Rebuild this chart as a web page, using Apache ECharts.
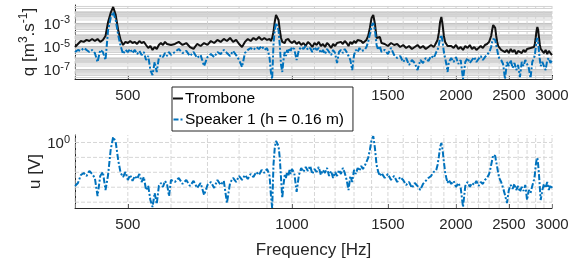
<!DOCTYPE html>
<html>
<head>
<meta charset="utf-8">
<script src="https://cdn.jsdelivr.net/npm/echarts@6/dist/echarts.min.js"></script>
<style>
  html, body { margin: 0; padding: 0; background: #fff; }
  #chart { width: 585px; height: 264px; }
</style>
</head>
<body>
<div id="chart"></div>
<script>
// frequency (Hz)
const freq = [
  400, 405, 410, 415, 420, 425, 430, 435, 440, 445, 450, 455, 460, 465, 470, 475, 480, 485, 490, 495,
  500, 505, 510, 515, 520, 525, 530, 535, 540, 545, 550, 555, 560, 565, 570, 575, 580, 585, 590, 595, 600,
  610, 620, 630, 640, 650, 660, 670, 680, 690, 700, 710, 720, 730, 740, 750, 760, 770, 780, 790,
  800, 810, 820, 830, 840, 850, 860, 870, 880, 890, 900,
  905, 910, 915, 920, 925, 930, 935, 940, 945, 950, 955, 960, 965, 970, 975, 980, 985, 990, 995, 1000,
  1010, 1020, 1030, 1040, 1050, 1060, 1070, 1080, 1090, 1100, 1110, 1120, 1130, 1140, 1150, 1160, 1170, 1180,
  1190, 1200, 1210, 1220, 1230, 1240, 1250, 1260, 1270, 1280, 1290, 1300, 1310, 1320, 1330, 1340, 1350,
  1360, 1370, 1380, 1390, 1400, 1410, 1420, 1430, 1440, 1450, 1460,
  1480, 1500, 1520, 1540, 1560, 1580, 1600, 1620, 1640, 1660, 1680, 1700, 1720, 1740, 1760, 1780, 1800, 1820,
  1830, 1840, 1850, 1860, 1870, 1880, 1890, 1900, 1910, 1920, 1930, 1940,
  1960, 1980, 2000, 2020, 2040, 2060, 2080, 2100, 2120, 2140, 2160, 2180, 2200, 2220, 2240, 2260, 2280, 2300,
  2310, 2320, 2330, 2340, 2350, 2360, 2370, 2380, 2390, 2400,
  2420, 2440, 2460, 2480, 2500, 2520, 2540, 2560, 2580, 2600, 2620, 2640, 2660, 2680, 2700, 2720, 2740, 2760, 2780,
  2790, 2800, 2810, 2820, 2830, 2840, 2850, 2860,
  2880, 2900, 2920, 2940, 2960, 2980, 3000
];

// volume flow q (m^3/s), trombone
const tromboneQ = [
  9.0e-6, 1.65e-5, 3.0e-5, 2.5e-5, 3.7e-5, 3.0e-5, 4.5e-5, 3.0e-5, 4.5e-5, 2.5e-5, 3.7e-5, 8.2e-5, 1.35e-3, 8.2e-3, 2.7e-2, 5.5e-3, 2.7e-4, 3.7e-5, 1.35e-5, 2.5e-5,
  2.0e-5, 3.0e-5, 2.0e-5, 2.5e-5, 1.65e-5, 3.0e-5, 2.0e-5, 2.5e-5, 1.35e-5, 7.4e-6, 1.1e-5, 5.0e-6, 9.0e-6, 6.1e-6, 1.35e-5, 2.0e-5, 1.35e-5, 2.5e-5, 1.65e-5, 2.0e-5, 1.35e-5,
  1.65e-5, 2.5e-5, 1.35e-5, 2.0e-5, 9.0e-6, 6.1e-6, 1.65e-5, 1.1e-5, 2.0e-5, 1.35e-5, 3.0e-5, 2.0e-5, 3.7e-5, 2.5e-5, 4.5e-5, 3.0e-5, 5.5e-5, 2.5e-5, 3.7e-5,
  1.65e-5, 9.0e-6, 2.5e-5, 4.5e-5, 3.0e-5, 5.5e-5, 3.7e-5, 6.7e-5, 3.7e-5, 5.5e-5, 3.7e-5,
  2.5e-5, 4.5e-5, 3.0e-5, 5.5e-5, 1.8e-4, 1.35e-3, 5.5e-3, 6.7e-3, 2.0e-3, 2.7e-4, 5.5e-5, 2.5e-5, 3.7e-5, 2.0e-5, 3.7e-5, 2.5e-5, 4.5e-5, 3.0e-5, 3.7e-5, 2.0e-5,
  3.0e-5, 1.65e-5, 2.5e-5, 1.35e-5, 2.0e-5, 1.1e-5, 2.5e-5, 1.65e-5, 9.0e-6, 2.0e-5, 1.35e-5, 2.5e-5, 1.1e-5, 1.65e-5, 9.0e-6, 2.0e-5, 1.35e-5, 7.4e-6,
  1.65e-5, 1.1e-5, 2.0e-5, 1.35e-5, 2.5e-5, 1.65e-5, 3.0e-5, 2.0e-5, 1.1e-5, 2.5e-5, 1.65e-5, 3.0e-5, 2.0e-5, 3.7e-5, 2.5e-5, 3.0e-5, 2.0e-5,
  2.5e-5, 3.7e-5, 8.2e-5, 4.1e-4, 3.0e-3, 5.5e-3, 9.0e-4, 5.5e-5, 3.7e-5, 6.7e-5, 2.0e-5,
  1.65e-5, 1.1e-5, 2.0e-5, 1.35e-5, 1.65e-5, 9.0e-6, 1.35e-5, 7.4e-6, 1.1e-5, 6.1e-6, 9.0e-6, 1.35e-5, 7.4e-6, 1.1e-5, 6.1e-6, 9.0e-6, 1.35e-5, 9.0e-6,
  1.35e-5, 2.0e-5, 3.7e-5, 1.5e-4, 1.35e-3, 3.7e-3, 7.4e-4, 8.2e-5, 2.5e-5, 1.65e-5, 1.1e-5, 1.35e-5,
  1.1e-5, 7.4e-6, 1.35e-5, 6.1e-6, 9.0e-6, 5.0e-6, 1.1e-5, 7.4e-6, 1.35e-5, 6.1e-6, 9.0e-6, 5.0e-6, 7.4e-6, 1.1e-5, 7.4e-6, 1.35e-5, 1.65e-5, 2.5e-5,
  3.7e-5, 8.2e-5, 2.7e-4, 7.4e-4, 9.0e-4, 4.1e-4, 8.2e-5, 2.5e-5, 1.1e-5, 7.4e-6,
  5.0e-6, 7.4e-6, 3.3e-6, 5.0e-6, 2.7e-6, 6.1e-6, 3.3e-6, 5.0e-6, 2.2e-6, 4.1e-6, 6.1e-6, 2.7e-6, 5.0e-6, 3.3e-6, 6.1e-6, 4.1e-6, 7.4e-6, 5.0e-6, 9.0e-6,
  1.65e-5, 5.5e-5, 2.2e-4, 5.0e-4, 2.7e-4, 5.5e-5, 1.35e-5, 6.1e-6,
  4.1e-6, 2.7e-6, 5.0e-6, 2.2e-6, 4.1e-6, 2.7e-6, 1.8e-6
];

// volume flow q (m^3/s), speaker 1
const speakerQ = [
  3.3e-6, 5.0e-6, 4.1e-6, 7.4e-6, 5.0e-6, 3.3e-6, 5.0e-6, 2.7e-6, 4.5e-7, 5.0e-6, 3.3e-6, 6.7e-7, 2.7e-4, 3.0e-3, 1.0e-2, 2.0e-3, 1.0e-4, 1.1e-5, 2.2e-6, 5.0e-6,
  3.3e-6, 6.1e-6, 2.7e-6, 5.0e-6, 2.2e-6, 4.1e-6, 1.8e-6, 3.3e-6, 6.7e-7, 1.5e-6, 9.0e-8, 3.3e-8, 4.5e-7, 6.1e-8, 1.0e-6, 1.8e-6, 1.2e-6, 2.7e-6, 1.5e-6, 3.3e-6, 1.8e-6,
  3.3e-6, 6.1e-6, 2.7e-6, 4.1e-6, 1.5e-6, 3.3e-6, 1.0e-6, 1.8e-6, 2.0e-7, 1.2e-6, 2.2e-6, 1.2e-6, 3.3e-6, 2.2e-6, 5.0e-6, 2.7e-6, 1.5e-6, 4.1e-6, 1.8e-6,
  6.7e-7, 1.65e-7, 2.7e-6, 5.0e-6, 7.4e-6, 5.0e-6, 9.0e-6, 6.1e-6, 1.1e-5, 5.0e-6, 7.4e-6,
  3.3e-6, 1.0e-6, 6.1e-8, 1.5e-8, 1.35e-5, 2.7e-4, 1.1e-3, 1.35e-3, 2.7e-4, 1.35e-5, 2.5e-7, 6.1e-8, 6.7e-7, 3.3e-6, 1.5e-6, 5.0e-6, 2.7e-6, 7.4e-6, 4.1e-6, 9.0e-6,
  6.1e-6, 6.7e-7, 5.0e-6, 9.0e-6, 6.1e-6, 1.1e-5, 5.0e-6, 7.4e-6, 3.3e-6, 9.0e-6, 5.0e-6, 7.4e-6, 2.7e-6, 5.0e-6, 2.2e-6, 6.1e-6, 3.3e-6, 1.8e-6,
  5.0e-6, 2.7e-6, 3.7e-7, 3.3e-6, 5.0e-6, 2.7e-6, 6.1e-6, 3.3e-6, 1.5e-6, 6.7e-7, 9.0e-8, 1.8e-6, 5.0e-6, 3.3e-6, 7.4e-6, 4.1e-6, 6.1e-6,
  5.0e-6, 9.0e-6, 2.5e-5, 1.2e-4, 6.1e-4, 1.1e-3, 2.7e-4, 1.35e-5, 5.0e-6, 1.1e-5, 3.3e-6,
  5.0e-6, 2.2e-6, 7.4e-6, 1.8e-6, 1.0e-6, 1.5e-6, 4.5e-7, 1.0e-6, 2.5e-7, 6.7e-7, 3.7e-7, 9.0e-8, 6.7e-7, 3.7e-7, 1.0e-6, 5.5e-7, 1.5e-6, 1.0e-6,
  1.8e-6, 3.3e-6, 5.0e-6, 1.35e-5, 5.5e-5, 1.0e-4, 2.5e-5, 3.3e-6, 1.0e-6, 3.0e-7, 6.1e-8, 4.5e-7,
  1.0e-6, 4.5e-7, 1.2e-6, 3.0e-7, 6.7e-7, 1.5e-8, 4.5e-7, 1.0e-6, 3.7e-7, 6.7e-7, 1.2e-6, 4.5e-7, 8.2e-7, 1.5e-6, 6.7e-7, 1.2e-6, 1.8e-6, 3.3e-6,
  5.0e-6, 9.0e-6, 2.5e-5, 4.5e-5, 5.5e-5, 3.7e-5, 1.35e-5, 5.0e-6, 1.8e-6, 1.0e-6,
  6.7e-7, 3.0e-7, 1.5e-8, 4.5e-7, 2.0e-7, 6.7e-7, 1.35e-7, 3.7e-7, 9.0e-8, 2.5e-7, 2.2e-8, 4.5e-7, 2.0e-7, 6.7e-7, 3.0e-7, 1.35e-7, 1.8e-8, 4.5e-7, 1.0e-6,
  1.8e-6, 7.4e-6, 3.0e-5, 5.5e-5, 2.5e-5, 3.3e-6, 6.7e-7, 2.0e-7,
  4.5e-7, 2.0e-7, 9.0e-8, 6.7e-7, 1.0e-6, 3.7e-7, 6.7e-7
];

// voltage u (V), speaker 1
const speakerU = [
  0.261, 0.286, 0.366, 0.390, 0.355, 0.415, 0.378, 0.334, 0.191, 0.355, 0.402, 0.230, 0.366, 0.793, 1.185, 1.02, 0.582, 0.390, 0.344, 0.402,
  0.314, 0.366, 0.305, 0.355, 0.324, 0.378, 0.295, 0.344, 0.230, 0.261, 0.169, 0.136, 0.210, 0.149, 0.261, 0.286, 0.253, 0.305, 0.278, 0.191, 0.314,
  0.295, 0.334, 0.278, 0.314, 0.261, 0.305, 0.245, 0.286, 0.197, 0.269, 0.295, 0.245, 0.314, 0.269, 0.305, 0.154, 0.286, 0.334, 0.295,
  0.355, 0.314, 0.366, 0.324, 0.378, 0.344, 0.402, 0.366, 0.428, 0.390, 0.441,
  0.402, 0.355, 0.197, 0.132, 0.499, 0.84, 1.05, 1.08, 0.898, 0.62, 0.334, 0.180, 0.269, 0.366, 0.334, 0.402, 0.355, 0.428, 0.378, 0.441,
  0.390, 0.217, 0.366, 0.455, 0.402, 0.469, 0.415, 0.484, 0.378, 0.441, 0.402, 0.469, 0.366, 0.428, 0.390, 0.455, 0.355, 0.415,
  0.334, 0.402, 0.355, 0.428, 0.378, 0.455, 0.390, 0.314, 0.230, 0.355, 0.295, 0.428, 0.378, 0.455, 0.415, 0.484, 0.441,
  0.484, 0.548, 0.62, 0.793, 1.08, 1.22, 0.84, 0.499, 0.402, 0.355, 0.390,
  0.334, 0.378, 0.314, 0.355, 0.295, 0.344, 0.314, 0.269, 0.295, 0.245, 0.286, 0.261, 0.230, 0.278, 0.305, 0.334, 0.355, 0.402,
  0.378, 0.428, 0.499, 0.64, 0.87, 0.985, 0.793, 0.548, 0.402, 0.334, 0.286, 0.314,
  0.278, 0.305, 0.253, 0.286, 0.245, 0.136, 0.261, 0.295, 0.253, 0.286, 0.269, 0.305, 0.261, 0.295, 0.278, 0.314, 0.334, 0.378,
  0.428, 0.499, 0.582, 0.68, 0.723, 0.659, 0.548, 0.469, 0.390, 0.334,
  0.295, 0.245, 0.197, 0.154, 0.230, 0.269, 0.238, 0.278, 0.230, 0.261, 0.217, 0.253, 0.224, 0.269, 0.169, 0.230, 0.210, 0.261, 0.314,
  0.366, 0.484, 0.582, 0.62, 0.499, 0.366, 0.245, 0.169,
  0.230, 0.278, 0.245, 0.295, 0.230, 0.269, 0.245
];

// ticks and limits
const xTicks = [500, 1000, 1500, 2000, 2500, 3000];
const xGrid = [400, 500, 600, 700, 800, 900, 1000, 1100, 1200, 1300, 1400, 1500, 1600, 1700, 1800, 1900,
  2000, 2100, 2200, 2300, 2400, 2500, 2600, 2700, 2800, 2900, 3000];
const qTicks = [1e-7, 1e-5, 1e-3];
const uTicks = [1];
const uGrid = [1, 0.631, 0.398, 0.251, 0.158];
const xRange = [400, 3000];
const qRange = [1.5e-8, 4e-2];
const uRange = [0.132, 1.26];

const lg = Math.log10;
const font = 'Liberation Sans, Arial, Helvetica, sans-serif';
const axisColor = '#262626';
const blue = '#0072BD';
const dashDot = [6, 2, 2, 2];

function toPairs(vals) {
  return freq.map((f, i) => [lg(f), lg(vals[i])]);
}

// line segments separated by gaps
function vLines(values, yr) {
  const d = [];
  values.forEach(v => { d.push([lg(v), lg(yr[0])], [lg(v), lg(yr[1])], [lg(v), '-']); });
  return d;
}
function hLines(values) {
  const d = [];
  values.forEach(v => { d.push([lg(xRange[0]), lg(v)], [lg(xRange[1]), lg(v)], ['-', lg(v)]); });
  return d;
}

// q-axis grid: decades and minor lines
const qMajor = [];
const qMinor = [];
for (let e = -8; e <= -2; e++) {
  qMajor.push(Math.pow(10, e));
  for (let k = 2; k <= 9; k++) {
    const v = k * Math.pow(10, e);
    if (v > qRange[0] && v < qRange[1]) qMinor.push(v);
  }
}

function xAxisOpt(gridIndex) {
  return {
    type: 'value',
    gridIndex: gridIndex,
    min: lg(xRange[0]),
    max: lg(xRange[1]),
    axisLine: { show: true, onZero: false, lineStyle: { color: axisColor, width: 1 } },
    axisTick: { show: true, inside: true, length: 4, customValues: xTicks.map(lg), lineStyle: { color: axisColor } },
    axisLabel: {
      customValues: xTicks.map(lg),
      formatter: v => String(Math.round(Math.pow(10, v))),
      fontSize: 15,
      color: axisColor,
      fontFamily: font,
      margin: 9
    },
    splitLine: { show: false }
  };
}

const supRich = {
  b: { fontSize: 15, lineHeight: 17, verticalAlign: 'bottom', color: axisColor, fontFamily: font },
  s: { fontSize: 11, lineHeight: 11, verticalAlign: 'top', color: axisColor, fontFamily: font }
};

const chart = echarts.init(document.getElementById('chart'));
chart.setOption({
  animation: false,
  textStyle: { fontFamily: font },
  grid: [
    { left: 75, top: 5, width: 477, height: 74 },
    { left: 75, top: 135, width: 477, height: 73 }
  ],
  legend: {
    orient: 'vertical',
    left: 172,
    top: 87,
    data: [
      { name: 'Trombone', icon: 'path://M0,0h10v2h-10z' },
      { name: 'Speaker 1 (h = 0.16 m)', icon: 'path://M0,0h5v2h-5z M7,0h2v2h-2z' }
    ],
    itemWidth: 10,
    itemHeight: 2,
    itemGap: 4,
    padding: [3, 9, 3, 1],
    backgroundColor: '#fff',
    borderColor: axisColor,
    borderWidth: 1,
    borderRadius: 0,
    textStyle: { fontSize: 15.5, lineHeight: 17, color: '#000', fontFamily: font, padding: [0, 0, 0, -3] },
    z: 10
  },
  xAxis: [
    xAxisOpt(0),
    Object.assign(xAxisOpt(1), {
      name: 'Frequency [Hz]',
      nameLocation: 'middle',
      nameGap: 34,
      nameMoveOverlap: false,
      nameTextStyle: { fontSize: 17, color: axisColor, fontFamily: font }
    })
  ],
  yAxis: [
    {
      type: 'value',
      gridIndex: 0,
      min: lg(qRange[0]),
      max: lg(qRange[1]),
      axisLine: { show: true, onZero: false, lineStyle: { color: axisColor, width: 1 } },
      axisTick: { show: true, inside: true, length: 4, customValues: qTicks.map(lg), lineStyle: { color: axisColor } },
      axisLabel: {
        customValues: qTicks.map(lg),
        formatter: v => '{b|10}{s|' + Math.round(v) + '}',
        rich: supRich,
        margin: 5
      },
      splitLine: { show: false },
      name: '{n|q [m}{s|3}{n|.s}{s|-1}{n|]}',
      nameLocation: 'middle',
      nameGap: 37,
      nameMoveOverlap: false,
      nameTextStyle: {
        rich: {
          n: { fontSize: 17, lineHeight: 20, verticalAlign: 'bottom', color: axisColor, fontFamily: font },
          s: { fontSize: 12, lineHeight: 12, verticalAlign: 'top', color: axisColor, fontFamily: font }
        }
      }
    },
    {
      type: 'value',
      gridIndex: 1,
      min: lg(uRange[0]),
      max: lg(uRange[1]),
      axisLine: { show: true, onZero: false, lineStyle: { color: axisColor, width: 1 } },
      axisTick: { show: true, inside: true, length: 4, customValues: uTicks.map(lg), lineStyle: { color: axisColor } },
      axisLabel: {
        customValues: uTicks.map(lg),
        formatter: v => '{b|10}{s|' + Math.round(v) + '}',
        rich: supRich,
        margin: 5
      },
      splitLine: { show: false },
      name: 'u [V]',
      nameLocation: 'middle',
      nameGap: 31,
      nameMoveOverlap: false,
      nameTextStyle: { fontSize: 17, color: axisColor, fontFamily: font }
    }
  ],
  series: [
    // grid lines, top panel
    {
      type: 'line', xAxisIndex: 0, yAxisIndex: 0, z: 1, silent: true, showSymbol: false, symbol: 'none',
      data: hLines(qMinor), lineStyle: { color: '#d2d2d2', width: 1 }
    },
    {
      type: 'line', xAxisIndex: 0, yAxisIndex: 0, z: 1, silent: true, showSymbol: false, symbol: 'none',
      data: hLines(qMajor), lineStyle: { color: '#c2c2c2', width: 1 }
    },
    {
      type: 'line', xAxisIndex: 0, yAxisIndex: 0, z: 1, silent: true, showSymbol: false, symbol: 'none',
      data: vLines(xGrid, qRange), lineStyle: { color: '#d2d2d2', width: 1, type: [3, 2] }
    },
    // grid lines, bottom panel
    {
      type: 'line', xAxisIndex: 1, yAxisIndex: 1, z: 1, silent: true, showSymbol: false, symbol: 'none',
      data: hLines(uGrid), lineStyle: { color: '#d6d6d6', width: 1, type: [4, 2] }
    },
    {
      type: 'line', xAxisIndex: 1, yAxisIndex: 1, z: 1, silent: true, showSymbol: false, symbol: 'none',
      data: vLines(xGrid, uRange), lineStyle: { color: '#d6d6d6', width: 1, type: [4, 2] }
    },
    // data
    {
      name: 'Trombone', type: 'line', xAxisIndex: 0, yAxisIndex: 0, z: 3,
      showSymbol: false, symbol: 'none',
      data: toPairs(tromboneQ),
      lineStyle: { color: '#111', width: 2 }, itemStyle: { color: '#111' }
    },
    {
      name: 'Speaker 1 (h = 0.16 m)', type: 'line', xAxisIndex: 0, yAxisIndex: 0, z: 4,
      showSymbol: false, symbol: 'none',
      data: toPairs(speakerQ),
      lineStyle: { color: blue, width: 2, type: dashDot }, itemStyle: { color: blue }
    },
    {
      name: 'Speaker 1 (h = 0.16 m)', type: 'line', xAxisIndex: 1, yAxisIndex: 1, z: 4,
      showSymbol: false, symbol: 'none',
      data: toPairs(speakerU),
      lineStyle: { color: blue, width: 2, type: dashDot }, itemStyle: { color: blue }
    }
  ]
});
</script>
</body>
</html>
